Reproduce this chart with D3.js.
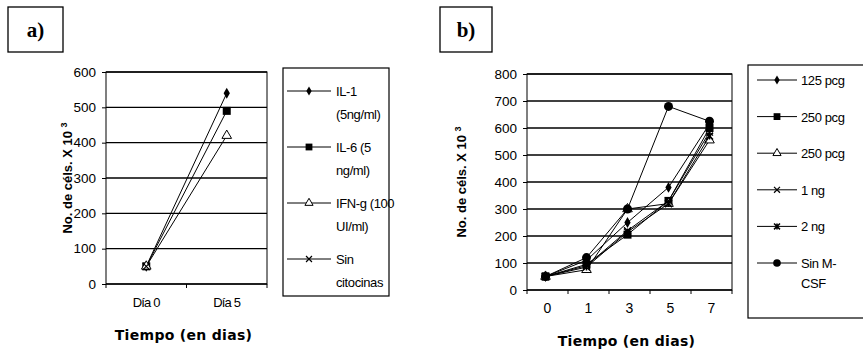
<!DOCTYPE html>
<html>
<head>
<meta charset="utf-8">
<script src="https://cdn.jsdelivr.net/npm/d3@7"></script>
<style>
  body { margin: 0; background: #fff; }
  text { font-family: "Liberation Sans", Arial, sans-serif; fill: #000; }
</style>
</head>
<body>
<script>
// Panel a data
var daysA = ["Día 0", "Día 5"];
var il1 = [50, 540];
var il6 = [50, 490];
var ifng = [50, 420];
var sinCito = [50, null];
var ticksA = [0, 100, 200, 300, 400, 500, 600];

// Panel b data
var daysB = ["0", "1", "3", "5", "7"];
var pcg125 = [50, 110, 250, 380, 615];
var pcg250sq = [50, 95, 205, 330, 600];
var pcg250tri = [50, 75, 300, 320, 555];
var ng1 = [50, 90, 220, 330, 585];
var ng2 = [50, 85, 215, 320, 570];
var sinMcsf = [50, 120, 300, 680, 625];
var ticksB = [0, 100, 200, 300, 400, 500, 600, 700, 800];

var svg = d3.select("body").append("svg")
  .attr("width", 863)
  .attr("height", 361);

// marker drawing
function marker(g, type, x, y, k) {
  k = k || 1;
  if (type == "diamond") {
    g.append("path").attr("d", d3.symbol(d3.symbolDiamond, 34 * k * k)())
      .attr("transform", `translate(${x},${y})`).attr("fill", "#000");
  } else if (type == "square") {
    var s = 4 * k;
    g.append("rect").attr("x", x - s).attr("y", y - s).attr("width", 2 * s).attr("height", 2 * s).attr("fill", "#000");
  } else if (type == "triangle") {
    g.append("path").attr("d", d3.symbol(d3.symbolTriangle, 40 * k * k)())
      .attr("transform", `translate(${x},${y})`).attr("fill", "#fff").attr("stroke", "#000").attr("stroke-width", 1);
  } else if (type == "x") {
    var a = 3.5 * k;
    g.append("path").attr("d", `M${x-a},${y-a}L${x+a},${y+a}M${x-a},${y+a}L${x+a},${y-a}`)
      .attr("stroke", "#000").attr("stroke-width", 1.2);
  } else if (type == "star") {
    var b = 3.5 * k;
    g.append("path").attr("d", `M${x-b},${y-b}L${x+b},${y+b}M${x-b},${y+b}L${x+b},${y-b}M${x},${y-b}L${x},${y+b}`)
      .attr("stroke", "#000").attr("stroke-width", 1.5);
  } else if (type == "circle") {
    g.append("circle").attr("cx", x).attr("cy", y).attr("r", 4.5 * k).attr("fill", "#000");
  }
}

function labelBox(x, y, w, h, txt) {
  svg.append("rect").attr("x", x).attr("y", y).attr("width", w).attr("height", h)
    .attr("fill", "none").attr("stroke", "#000").attr("stroke-width", 1.3);
  svg.append("text").attr("x", x + w / 2).attr("y", y + h / 2 + 7)
    .attr("text-anchor", "middle")
    .style("font-family", "'Liberation Serif', 'Times New Roman', serif")
    .style("font-weight", "bold").style("font-size", "21px")
    .text(txt);
}

function drawPanel(p) {
  var g = svg.append("g");
  var x = d3.scaleBand().domain(p.cats).range([p.left, p.right]);
  var y = d3.scaleLinear().domain([0, p.max]).range([p.bottom, p.top]);

  // gridlines
  g.selectAll(".grid").data(p.ticks).enter().append("line")
    .attr("x1", p.left).attr("x2", p.right)
    .attr("y1", d => y(d)).attr("y2", d => y(d))
    .attr("stroke", "#000").attr("stroke-width", 1.3);

  // plot border
  g.append("rect").attr("x", p.left).attr("y", p.top)
    .attr("width", p.right - p.left).attr("height", p.bottom - p.top)
    .attr("fill", "none").attr("stroke", "#000").attr("stroke-width", 1);

  // y axis
  var yAxis = g.append("g").attr("transform", `translate(${p.left},0)`)
    .call(d3.axisLeft(y).tickValues(p.ticks).tickSize(4).tickPadding(6));
  yAxis.select(".domain").remove();
  yAxis.selectAll("text").style("font-size", "13.5px").attr("fill", "#000");

  // x axis: ticks between categories
  var bounds = p.cats.map(c => x(c)).concat([p.right]);
  g.selectAll(".xt").data(bounds).enter().append("line")
    .attr("x1", d => d).attr("x2", d => d)
    .attr("y1", p.bottom).attr("y2", p.bottom + 4)
    .attr("stroke", "#000");
  g.selectAll(".xl").data(p.cats).enter().append("text")
    .attr("x", d => x(d) + x.bandwidth() / 2)
    .attr("y", p.bottom + 23)
    .attr("text-anchor", "middle")
    .style("font-size", p.catSize)
    .style("letter-spacing", p.catSpacing)
    .text(d => d);

  // axis titles
  g.append("text").attr("x", (p.left + p.right) / 2 - 3).attr("y", p.bottom + p.xtitleDy)
    .attr("text-anchor", "middle").style("font-weight", "bold").style("font-size", "14px")
    .style("font-family", "'DejaVu Sans', sans-serif").style("letter-spacing", "0.3px")
    .text("Tiempo (en dias)");
  var yt = g.append("text")
    .attr("transform", `translate(${p.ytitleX},${(p.top + p.bottom) / 2}) rotate(-90)`)
    .attr("text-anchor", "middle").style("font-weight", "bold").style("font-size", "13px");
  yt.append("tspan").text("No. de céls. X 10 ");
  yt.append("tspan").attr("dy", -5).style("font-size", "9px").text("3");

  // series
  p.series.forEach(function (s) {
    var pts = s.values.map((v, i) => [x(p.cats[i]) + x.bandwidth() / 2 + p.offset, v])
      .filter(d => d[1] != null);
    g.append("path")
      .attr("d", d3.line().x(d => d[0]).y(d => y(d[1]))(pts))
      .attr("fill", "none").attr("stroke", "#000").attr("stroke-width", 1);
    pts.forEach(d => marker(g, s.marker, d[0], y(d[1])));
  });

  // legend
  var lg = svg.append("g");
  lg.append("rect").attr("x", p.leg.x).attr("y", p.leg.y).attr("width", p.leg.w).attr("height", p.leg.h)
    .attr("fill", "#fff").attr("stroke", "#000").attr("stroke-width", 1.2);
  p.series.forEach(function (s, i) {
    var cy = p.leg.first + i * p.leg.step;
    lg.append("line").attr("x1", p.leg.lx1).attr("x2", p.leg.lx2)
      .attr("y1", cy).attr("y2", cy).attr("stroke", "#000");
    marker(lg, s.marker, (p.leg.lx1 + p.leg.lx2) / 2, cy, 0.85);
    s.label.forEach(function (line, j) {
      lg.append("text").attr("x", p.leg.tx).attr("y", cy + 5 + j * p.leg.lineH)
        .style("font-size", "13px").style("letter-spacing", "-0.4px").text(line);
    });
  });
}

labelBox(8, 7, 55, 45, "a)");
labelBox(440, 7, 52, 45, "b)");

drawPanel({
  cats: daysA, max: 600, ticks: ticksA,
  left: 106, right: 267, top: 72, bottom: 284, offset: 0,
  catSize: "13px", catSpacing: "-0.8px", ytitleX: 72, xtitleDy: 56,
  series: [
    { values: il1, marker: "diamond", label: ["IL-1", "(5ng/ml)"] },
    { values: il6, marker: "square", label: ["IL-6 (5", "ng/ml)"] },
    { values: ifng, marker: "triangle", label: ["IFN-g (100", "UI/ml)"] },
    { values: sinCito, marker: "x", label: ["Sin", "citocinas"] }
  ],
  leg: { x: 283, y: 68, w: 106, h: 228, first: 91, step: 56, lineH: 23, lx1: 287, lx2: 331, tx: 336 }
});

drawPanel({
  cats: daysB, max: 800, ticks: ticksB,
  left: 527, right: 732, top: 74, bottom: 290, offset: -2,
  catSize: "14px", catSpacing: "0px", ytitleX: 466, xtitleDy: 56,
  series: [
    { values: pcg125, marker: "diamond", label: ["125 pcg"] },
    { values: pcg250sq, marker: "square", label: ["250 pcg"] },
    { values: pcg250tri, marker: "triangle", label: ["250 pcg"] },
    { values: ng1, marker: "x", label: ["1 ng"] },
    { values: ng2, marker: "star", label: ["2 ng"] },
    { values: sinMcsf, marker: "circle", label: ["Sin M-", "CSF"] }
  ],
  leg: { x: 748, y: 65, w: 125, h: 253, first: 80, step: 36.6, lineH: 20, lx1: 757, lx2: 797, tx: 801 }
});
</script>
</body>
</html>
